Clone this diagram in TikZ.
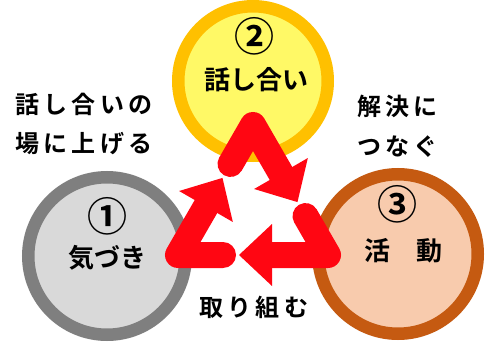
\documentclass[tikz,border=0pt]{standalone}
\usepackage{fontspec}
\usetikzlibrary{calc}
\setmainfont{Noto Sans CJK JP}
\newfontfamily\cjkb{Noto Sans CJK JP Bold}
\newfontfamily\cjksp[LetterSpace=18]{Noto Sans CJK JP Bold}
\definecolor{ringY}{HTML}{FFC000}
\definecolor{fillY}{HTML}{FFF966}
\definecolor{ringG}{HTML}{7F7F7F}
\definecolor{fillG}{HTML}{D9D9D9}
\definecolor{ringB}{HTML}{C55A11}
\definecolor{fillB}{HTML}{F8CBAD}
\definecolor{arrred}{HTML}{FF0612}
\tikzset{
  ring/.style={circle, line width=12.5pt, inner sep=0pt, outer sep=0pt},
  band/.style={draw=arrred, line width=26pt, line cap=round, line join=round},
  num/.style={font=\cjkb\fontsize{40}{40}\selectfont, inner sep=0pt},
  lbl/.style={font=\cjkb\fontsize{26}{26}\selectfont, inner sep=0pt},
  side/.style={font=\cjksp\fontsize{24}{24}\selectfont, inner sep=0pt, anchor=west}
}
\begin{document}
\begin{tikzpicture}[x=1pt,y=-1pt]
\useasboundingbox (0,0) rectangle (490,342);
\fill[white] (0,0) rectangle (490,342);
% circles
\node[ring, draw=ringY, fill=fillY, minimum size=149.5pt] (c2) at (253,81) {};
\node[ring, draw=ringG, fill=fillG, minimum size=157.5pt] (c1) at (107,256) {};
\node[ring, draw=ringB, fill=fillB, minimum size=159.5pt] (c3) at (398,254) {};
% circle texts
\node[num] (n2) at (254,36) {②};
\node[lbl] (t2) at (256,80) {話し合い};
\node[num] (n1) at (107,216) {①};
\node[lbl] (t1) at (107,258) {気づき};
\node[num] (n3) at (397,204) {③};
\node[lbl] (t3) at (403,251) {活　動};
% side labels
\node[side] (s1a) at (15,104) {話し合いの};
\node[side] (s1b) at (15,144) {場に上げる};
\node[side] (s2a) at (357,106) {解決に};
\node[side] (s2b) at (357,147) {つなぐ};
\node[side] (s3) at (199,307) {取り組む};
% recycle arrows
\coordinate (V) at (253,125);
\coordinate (CL) at (178,255);
\coordinate (CR) at (328,255);
\foreach \a/\b/\c/\i in {CL/V/CR/1, CR/CL/V/2, V/CR/CL/3}{
  \coordinate (s\i) at ($(\b)!45pt!(\a)$);
  \coordinate (m\i) at ($(\b)!56pt!(\c)$);
  \coordinate (h\i) at ($(\b)!89pt!(\c)$);
  \draw[band] (s\i) -- (\b) -- (m\i);
  \fill[arrred] ($(m\i)!31pt!90:(h\i)$) -- (h\i) -- ($(m\i)!31pt!-90:(h\i)$) -- cycle;
}
\end{tikzpicture}
\end{document}
